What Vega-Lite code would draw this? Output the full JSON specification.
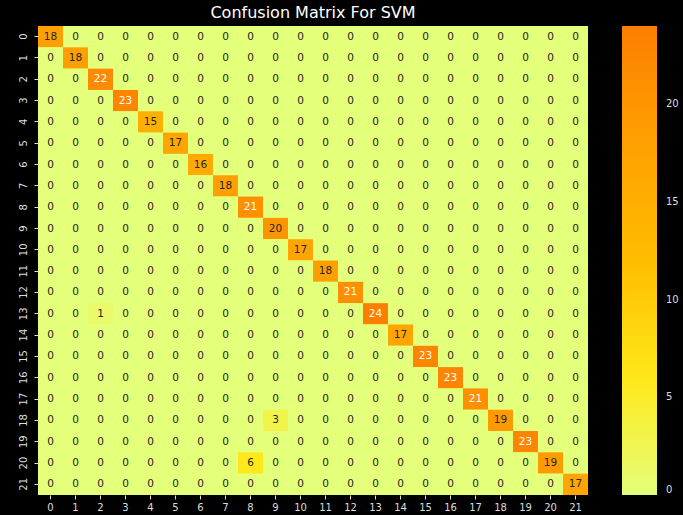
{
"$schema": "https://vega.github.io/schema/vega-lite/v6.json",
"width": 550, "height": 469,
"autosize": {"type": "none"},
"padding": {"left": 38, "top": 26, "right": 95, "bottom": 20},
"background": "#000000",
"title": {"text": "Confusion Matrix For SVM", "color": "#ffffff", "font": "DejaVu Sans", "fontSize": 16, "fontWeight": "normal", "offset": 5},
"config": {"view": {"stroke": null, "fill": "#e4ff7a"}, "axis": {"domain": false, "tickColor": "#dddddd", "tickSize": 4, "labelColor": "#dddddd", "labelFont": "DejaVu Sans", "labelFontSize": 10, "title": null, "grid": false}},
"data": {"values": [
{"t":0,"p":0,"n":18},{"t":0,"p":1,"n":0},{"t":0,"p":2,"n":0},{"t":0,"p":3,"n":0},{"t":0,"p":4,"n":0},{"t":0,"p":5,"n":0},{"t":0,"p":6,"n":0},{"t":0,"p":7,"n":0},{"t":0,"p":8,"n":0},{"t":0,"p":9,"n":0},{"t":0,"p":10,"n":0},{"t":0,"p":11,"n":0},{"t":0,"p":12,"n":0},{"t":0,"p":13,"n":0},{"t":0,"p":14,"n":0},{"t":0,"p":15,"n":0},{"t":0,"p":16,"n":0},{"t":0,"p":17,"n":0},{"t":0,"p":18,"n":0},{"t":0,"p":19,"n":0},{"t":0,"p":20,"n":0},{"t":0,"p":21,"n":0},
{"t":1,"p":0,"n":0},{"t":1,"p":1,"n":18},{"t":1,"p":2,"n":0},{"t":1,"p":3,"n":0},{"t":1,"p":4,"n":0},{"t":1,"p":5,"n":0},{"t":1,"p":6,"n":0},{"t":1,"p":7,"n":0},{"t":1,"p":8,"n":0},{"t":1,"p":9,"n":0},{"t":1,"p":10,"n":0},{"t":1,"p":11,"n":0},{"t":1,"p":12,"n":0},{"t":1,"p":13,"n":0},{"t":1,"p":14,"n":0},{"t":1,"p":15,"n":0},{"t":1,"p":16,"n":0},{"t":1,"p":17,"n":0},{"t":1,"p":18,"n":0},{"t":1,"p":19,"n":0},{"t":1,"p":20,"n":0},{"t":1,"p":21,"n":0},
{"t":2,"p":0,"n":0},{"t":2,"p":1,"n":0},{"t":2,"p":2,"n":22},{"t":2,"p":3,"n":0},{"t":2,"p":4,"n":0},{"t":2,"p":5,"n":0},{"t":2,"p":6,"n":0},{"t":2,"p":7,"n":0},{"t":2,"p":8,"n":0},{"t":2,"p":9,"n":0},{"t":2,"p":10,"n":0},{"t":2,"p":11,"n":0},{"t":2,"p":12,"n":0},{"t":2,"p":13,"n":0},{"t":2,"p":14,"n":0},{"t":2,"p":15,"n":0},{"t":2,"p":16,"n":0},{"t":2,"p":17,"n":0},{"t":2,"p":18,"n":0},{"t":2,"p":19,"n":0},{"t":2,"p":20,"n":0},{"t":2,"p":21,"n":0},
{"t":3,"p":0,"n":0},{"t":3,"p":1,"n":0},{"t":3,"p":2,"n":0},{"t":3,"p":3,"n":23},{"t":3,"p":4,"n":0},{"t":3,"p":5,"n":0},{"t":3,"p":6,"n":0},{"t":3,"p":7,"n":0},{"t":3,"p":8,"n":0},{"t":3,"p":9,"n":0},{"t":3,"p":10,"n":0},{"t":3,"p":11,"n":0},{"t":3,"p":12,"n":0},{"t":3,"p":13,"n":0},{"t":3,"p":14,"n":0},{"t":3,"p":15,"n":0},{"t":3,"p":16,"n":0},{"t":3,"p":17,"n":0},{"t":3,"p":18,"n":0},{"t":3,"p":19,"n":0},{"t":3,"p":20,"n":0},{"t":3,"p":21,"n":0},
{"t":4,"p":0,"n":0},{"t":4,"p":1,"n":0},{"t":4,"p":2,"n":0},{"t":4,"p":3,"n":0},{"t":4,"p":4,"n":15},{"t":4,"p":5,"n":0},{"t":4,"p":6,"n":0},{"t":4,"p":7,"n":0},{"t":4,"p":8,"n":0},{"t":4,"p":9,"n":0},{"t":4,"p":10,"n":0},{"t":4,"p":11,"n":0},{"t":4,"p":12,"n":0},{"t":4,"p":13,"n":0},{"t":4,"p":14,"n":0},{"t":4,"p":15,"n":0},{"t":4,"p":16,"n":0},{"t":4,"p":17,"n":0},{"t":4,"p":18,"n":0},{"t":4,"p":19,"n":0},{"t":4,"p":20,"n":0},{"t":4,"p":21,"n":0},
{"t":5,"p":0,"n":0},{"t":5,"p":1,"n":0},{"t":5,"p":2,"n":0},{"t":5,"p":3,"n":0},{"t":5,"p":4,"n":0},{"t":5,"p":5,"n":17},{"t":5,"p":6,"n":0},{"t":5,"p":7,"n":0},{"t":5,"p":8,"n":0},{"t":5,"p":9,"n":0},{"t":5,"p":10,"n":0},{"t":5,"p":11,"n":0},{"t":5,"p":12,"n":0},{"t":5,"p":13,"n":0},{"t":5,"p":14,"n":0},{"t":5,"p":15,"n":0},{"t":5,"p":16,"n":0},{"t":5,"p":17,"n":0},{"t":5,"p":18,"n":0},{"t":5,"p":19,"n":0},{"t":5,"p":20,"n":0},{"t":5,"p":21,"n":0},
{"t":6,"p":0,"n":0},{"t":6,"p":1,"n":0},{"t":6,"p":2,"n":0},{"t":6,"p":3,"n":0},{"t":6,"p":4,"n":0},{"t":6,"p":5,"n":0},{"t":6,"p":6,"n":16},{"t":6,"p":7,"n":0},{"t":6,"p":8,"n":0},{"t":6,"p":9,"n":0},{"t":6,"p":10,"n":0},{"t":6,"p":11,"n":0},{"t":6,"p":12,"n":0},{"t":6,"p":13,"n":0},{"t":6,"p":14,"n":0},{"t":6,"p":15,"n":0},{"t":6,"p":16,"n":0},{"t":6,"p":17,"n":0},{"t":6,"p":18,"n":0},{"t":6,"p":19,"n":0},{"t":6,"p":20,"n":0},{"t":6,"p":21,"n":0},
{"t":7,"p":0,"n":0},{"t":7,"p":1,"n":0},{"t":7,"p":2,"n":0},{"t":7,"p":3,"n":0},{"t":7,"p":4,"n":0},{"t":7,"p":5,"n":0},{"t":7,"p":6,"n":0},{"t":7,"p":7,"n":18},{"t":7,"p":8,"n":0},{"t":7,"p":9,"n":0},{"t":7,"p":10,"n":0},{"t":7,"p":11,"n":0},{"t":7,"p":12,"n":0},{"t":7,"p":13,"n":0},{"t":7,"p":14,"n":0},{"t":7,"p":15,"n":0},{"t":7,"p":16,"n":0},{"t":7,"p":17,"n":0},{"t":7,"p":18,"n":0},{"t":7,"p":19,"n":0},{"t":7,"p":20,"n":0},{"t":7,"p":21,"n":0},
{"t":8,"p":0,"n":0},{"t":8,"p":1,"n":0},{"t":8,"p":2,"n":0},{"t":8,"p":3,"n":0},{"t":8,"p":4,"n":0},{"t":8,"p":5,"n":0},{"t":8,"p":6,"n":0},{"t":8,"p":7,"n":0},{"t":8,"p":8,"n":21},{"t":8,"p":9,"n":0},{"t":8,"p":10,"n":0},{"t":8,"p":11,"n":0},{"t":8,"p":12,"n":0},{"t":8,"p":13,"n":0},{"t":8,"p":14,"n":0},{"t":8,"p":15,"n":0},{"t":8,"p":16,"n":0},{"t":8,"p":17,"n":0},{"t":8,"p":18,"n":0},{"t":8,"p":19,"n":0},{"t":8,"p":20,"n":0},{"t":8,"p":21,"n":0},
{"t":9,"p":0,"n":0},{"t":9,"p":1,"n":0},{"t":9,"p":2,"n":0},{"t":9,"p":3,"n":0},{"t":9,"p":4,"n":0},{"t":9,"p":5,"n":0},{"t":9,"p":6,"n":0},{"t":9,"p":7,"n":0},{"t":9,"p":8,"n":0},{"t":9,"p":9,"n":20},{"t":9,"p":10,"n":0},{"t":9,"p":11,"n":0},{"t":9,"p":12,"n":0},{"t":9,"p":13,"n":0},{"t":9,"p":14,"n":0},{"t":9,"p":15,"n":0},{"t":9,"p":16,"n":0},{"t":9,"p":17,"n":0},{"t":9,"p":18,"n":0},{"t":9,"p":19,"n":0},{"t":9,"p":20,"n":0},{"t":9,"p":21,"n":0},
{"t":10,"p":0,"n":0},{"t":10,"p":1,"n":0},{"t":10,"p":2,"n":0},{"t":10,"p":3,"n":0},{"t":10,"p":4,"n":0},{"t":10,"p":5,"n":0},{"t":10,"p":6,"n":0},{"t":10,"p":7,"n":0},{"t":10,"p":8,"n":0},{"t":10,"p":9,"n":0},{"t":10,"p":10,"n":17},{"t":10,"p":11,"n":0},{"t":10,"p":12,"n":0},{"t":10,"p":13,"n":0},{"t":10,"p":14,"n":0},{"t":10,"p":15,"n":0},{"t":10,"p":16,"n":0},{"t":10,"p":17,"n":0},{"t":10,"p":18,"n":0},{"t":10,"p":19,"n":0},{"t":10,"p":20,"n":0},{"t":10,"p":21,"n":0},
{"t":11,"p":0,"n":0},{"t":11,"p":1,"n":0},{"t":11,"p":2,"n":0},{"t":11,"p":3,"n":0},{"t":11,"p":4,"n":0},{"t":11,"p":5,"n":0},{"t":11,"p":6,"n":0},{"t":11,"p":7,"n":0},{"t":11,"p":8,"n":0},{"t":11,"p":9,"n":0},{"t":11,"p":10,"n":0},{"t":11,"p":11,"n":18},{"t":11,"p":12,"n":0},{"t":11,"p":13,"n":0},{"t":11,"p":14,"n":0},{"t":11,"p":15,"n":0},{"t":11,"p":16,"n":0},{"t":11,"p":17,"n":0},{"t":11,"p":18,"n":0},{"t":11,"p":19,"n":0},{"t":11,"p":20,"n":0},{"t":11,"p":21,"n":0},
{"t":12,"p":0,"n":0},{"t":12,"p":1,"n":0},{"t":12,"p":2,"n":0},{"t":12,"p":3,"n":0},{"t":12,"p":4,"n":0},{"t":12,"p":5,"n":0},{"t":12,"p":6,"n":0},{"t":12,"p":7,"n":0},{"t":12,"p":8,"n":0},{"t":12,"p":9,"n":0},{"t":12,"p":10,"n":0},{"t":12,"p":11,"n":0},{"t":12,"p":12,"n":21},{"t":12,"p":13,"n":0},{"t":12,"p":14,"n":0},{"t":12,"p":15,"n":0},{"t":12,"p":16,"n":0},{"t":12,"p":17,"n":0},{"t":12,"p":18,"n":0},{"t":12,"p":19,"n":0},{"t":12,"p":20,"n":0},{"t":12,"p":21,"n":0},
{"t":13,"p":0,"n":0},{"t":13,"p":1,"n":0},{"t":13,"p":2,"n":1},{"t":13,"p":3,"n":0},{"t":13,"p":4,"n":0},{"t":13,"p":5,"n":0},{"t":13,"p":6,"n":0},{"t":13,"p":7,"n":0},{"t":13,"p":8,"n":0},{"t":13,"p":9,"n":0},{"t":13,"p":10,"n":0},{"t":13,"p":11,"n":0},{"t":13,"p":12,"n":0},{"t":13,"p":13,"n":24},{"t":13,"p":14,"n":0},{"t":13,"p":15,"n":0},{"t":13,"p":16,"n":0},{"t":13,"p":17,"n":0},{"t":13,"p":18,"n":0},{"t":13,"p":19,"n":0},{"t":13,"p":20,"n":0},{"t":13,"p":21,"n":0},
{"t":14,"p":0,"n":0},{"t":14,"p":1,"n":0},{"t":14,"p":2,"n":0},{"t":14,"p":3,"n":0},{"t":14,"p":4,"n":0},{"t":14,"p":5,"n":0},{"t":14,"p":6,"n":0},{"t":14,"p":7,"n":0},{"t":14,"p":8,"n":0},{"t":14,"p":9,"n":0},{"t":14,"p":10,"n":0},{"t":14,"p":11,"n":0},{"t":14,"p":12,"n":0},{"t":14,"p":13,"n":0},{"t":14,"p":14,"n":17},{"t":14,"p":15,"n":0},{"t":14,"p":16,"n":0},{"t":14,"p":17,"n":0},{"t":14,"p":18,"n":0},{"t":14,"p":19,"n":0},{"t":14,"p":20,"n":0},{"t":14,"p":21,"n":0},
{"t":15,"p":0,"n":0},{"t":15,"p":1,"n":0},{"t":15,"p":2,"n":0},{"t":15,"p":3,"n":0},{"t":15,"p":4,"n":0},{"t":15,"p":5,"n":0},{"t":15,"p":6,"n":0},{"t":15,"p":7,"n":0},{"t":15,"p":8,"n":0},{"t":15,"p":9,"n":0},{"t":15,"p":10,"n":0},{"t":15,"p":11,"n":0},{"t":15,"p":12,"n":0},{"t":15,"p":13,"n":0},{"t":15,"p":14,"n":0},{"t":15,"p":15,"n":23},{"t":15,"p":16,"n":0},{"t":15,"p":17,"n":0},{"t":15,"p":18,"n":0},{"t":15,"p":19,"n":0},{"t":15,"p":20,"n":0},{"t":15,"p":21,"n":0},
{"t":16,"p":0,"n":0},{"t":16,"p":1,"n":0},{"t":16,"p":2,"n":0},{"t":16,"p":3,"n":0},{"t":16,"p":4,"n":0},{"t":16,"p":5,"n":0},{"t":16,"p":6,"n":0},{"t":16,"p":7,"n":0},{"t":16,"p":8,"n":0},{"t":16,"p":9,"n":0},{"t":16,"p":10,"n":0},{"t":16,"p":11,"n":0},{"t":16,"p":12,"n":0},{"t":16,"p":13,"n":0},{"t":16,"p":14,"n":0},{"t":16,"p":15,"n":0},{"t":16,"p":16,"n":23},{"t":16,"p":17,"n":0},{"t":16,"p":18,"n":0},{"t":16,"p":19,"n":0},{"t":16,"p":20,"n":0},{"t":16,"p":21,"n":0},
{"t":17,"p":0,"n":0},{"t":17,"p":1,"n":0},{"t":17,"p":2,"n":0},{"t":17,"p":3,"n":0},{"t":17,"p":4,"n":0},{"t":17,"p":5,"n":0},{"t":17,"p":6,"n":0},{"t":17,"p":7,"n":0},{"t":17,"p":8,"n":0},{"t":17,"p":9,"n":0},{"t":17,"p":10,"n":0},{"t":17,"p":11,"n":0},{"t":17,"p":12,"n":0},{"t":17,"p":13,"n":0},{"t":17,"p":14,"n":0},{"t":17,"p":15,"n":0},{"t":17,"p":16,"n":0},{"t":17,"p":17,"n":21},{"t":17,"p":18,"n":0},{"t":17,"p":19,"n":0},{"t":17,"p":20,"n":0},{"t":17,"p":21,"n":0},
{"t":18,"p":0,"n":0},{"t":18,"p":1,"n":0},{"t":18,"p":2,"n":0},{"t":18,"p":3,"n":0},{"t":18,"p":4,"n":0},{"t":18,"p":5,"n":0},{"t":18,"p":6,"n":0},{"t":18,"p":7,"n":0},{"t":18,"p":8,"n":0},{"t":18,"p":9,"n":3},{"t":18,"p":10,"n":0},{"t":18,"p":11,"n":0},{"t":18,"p":12,"n":0},{"t":18,"p":13,"n":0},{"t":18,"p":14,"n":0},{"t":18,"p":15,"n":0},{"t":18,"p":16,"n":0},{"t":18,"p":17,"n":0},{"t":18,"p":18,"n":19},{"t":18,"p":19,"n":0},{"t":18,"p":20,"n":0},{"t":18,"p":21,"n":0},
{"t":19,"p":0,"n":0},{"t":19,"p":1,"n":0},{"t":19,"p":2,"n":0},{"t":19,"p":3,"n":0},{"t":19,"p":4,"n":0},{"t":19,"p":5,"n":0},{"t":19,"p":6,"n":0},{"t":19,"p":7,"n":0},{"t":19,"p":8,"n":0},{"t":19,"p":9,"n":0},{"t":19,"p":10,"n":0},{"t":19,"p":11,"n":0},{"t":19,"p":12,"n":0},{"t":19,"p":13,"n":0},{"t":19,"p":14,"n":0},{"t":19,"p":15,"n":0},{"t":19,"p":16,"n":0},{"t":19,"p":17,"n":0},{"t":19,"p":18,"n":0},{"t":19,"p":19,"n":23},{"t":19,"p":20,"n":0},{"t":19,"p":21,"n":0},
{"t":20,"p":0,"n":0},{"t":20,"p":1,"n":0},{"t":20,"p":2,"n":0},{"t":20,"p":3,"n":0},{"t":20,"p":4,"n":0},{"t":20,"p":5,"n":0},{"t":20,"p":6,"n":0},{"t":20,"p":7,"n":0},{"t":20,"p":8,"n":6},{"t":20,"p":9,"n":0},{"t":20,"p":10,"n":0},{"t":20,"p":11,"n":0},{"t":20,"p":12,"n":0},{"t":20,"p":13,"n":0},{"t":20,"p":14,"n":0},{"t":20,"p":15,"n":0},{"t":20,"p":16,"n":0},{"t":20,"p":17,"n":0},{"t":20,"p":18,"n":0},{"t":20,"p":19,"n":0},{"t":20,"p":20,"n":19},{"t":20,"p":21,"n":0},
{"t":21,"p":0,"n":0},{"t":21,"p":1,"n":0},{"t":21,"p":2,"n":0},{"t":21,"p":3,"n":0},{"t":21,"p":4,"n":0},{"t":21,"p":5,"n":0},{"t":21,"p":6,"n":0},{"t":21,"p":7,"n":0},{"t":21,"p":8,"n":0},{"t":21,"p":9,"n":0},{"t":21,"p":10,"n":0},{"t":21,"p":11,"n":0},{"t":21,"p":12,"n":0},{"t":21,"p":13,"n":0},{"t":21,"p":14,"n":0},{"t":21,"p":15,"n":0},{"t":21,"p":16,"n":0},{"t":21,"p":17,"n":0},{"t":21,"p":18,"n":0},{"t":21,"p":19,"n":0},{"t":21,"p":20,"n":0},{"t":21,"p":21,"n":17}
]},
"encoding": {
  "x": {"field": "p", "type": "ordinal", "sort": "ascending", "scale": {"paddingInner": 0, "paddingOuter": 0}, "axis": {"orient": "bottom", "labelAngle": 0, "labelPadding": 3}},
  "y": {"field": "t", "type": "ordinal", "sort": "ascending", "scale": {"paddingInner": 0, "paddingOuter": 0}, "axis": {"labelAngle": 270, "labelPadding": 6}}
},
"layer": [
  {"mark": {"type": "rect", "strokeWidth": 0},
   "encoding": {
     "color": {"field": "n", "type": "quantitative",
      "scale": {"domain": [0, 6, 12, 18, 24], "range": ["#e4ff7a", "#ffe81a", "#ffbd00", "#ffa000", "#fc7f00"], "interpolate": "rgb", "clamp": true},
      "legend": {"title": null, "orient": "right", "offset": 34, "padding": 0, "gradientLength": 469, "gradientThickness": 35, "gradientStrokeWidth": 0, "values": [0, 5, 10, 15, 20], "labelColor": "#dddddd", "labelFont": "DejaVu Sans", "labelFontSize": 10, "labelOffset": 9, "direction": "vertical"}}}},
  {"mark": {"type": "text", "font": "DejaVu Sans", "fontSize": 10.5},
   "encoding": {"text": {"field": "n", "type": "quantitative"},
     "color": {"condition": {"test": "datum.n >= 21", "value": "#ffffff"}, "value": "#262626"}}}
]
}
